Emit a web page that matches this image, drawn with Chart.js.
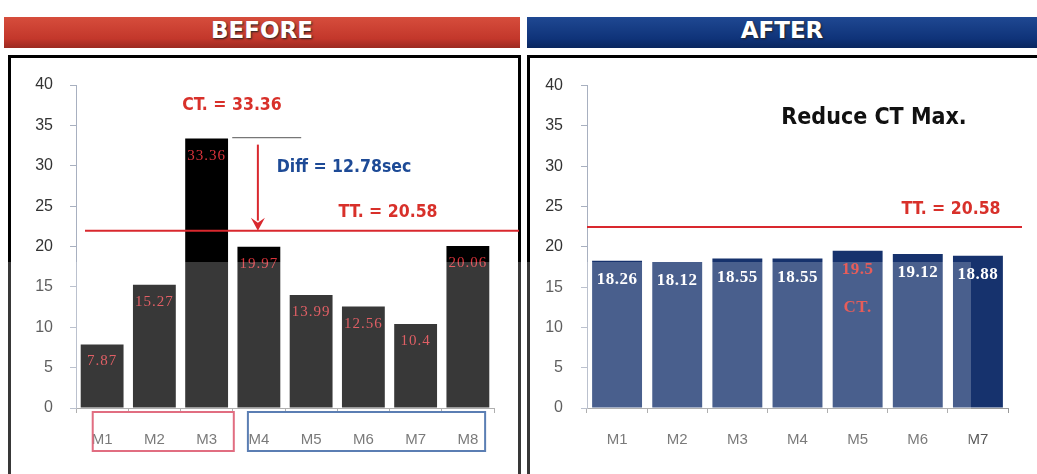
<!DOCTYPE html>
<html>
<head>
<meta charset="utf-8">
<script src="https://cdn.jsdelivr.net/npm/chart.js@4.4.1/dist/chart.umd.min.js"></script>
<style>
  body { margin: 0; width: 1037px; height: 474px; overflow: hidden; background: #fff; position: relative; }
  .hdr { position: absolute; top: 17px; height: 31px; line-height: 31px; color: #fff; text-align: center;
         font: bold 23px "DejaVu Sans", sans-serif; text-shadow: 1px 1px 2px #222; }
  #hdrBefore { left: 4px; width: 516px; background: linear-gradient(#d64d3c, #c3372b 70%, #9c2a21); }
  #hdrAfter { left: 527px; width: 510px; background: linear-gradient(#1f4892, #0f3379 70%, #0a275f); }
  .box { position: absolute; top: 55px; height: 440px; border: 3px solid #000; box-sizing: border-box; }
  #boxBefore { left: 8px; width: 513px; }
  #boxAfter { left: 527px; width: 530px; }
  .wrap { position: absolute; top: 58px; }
  #wrapBefore { left: 11px; }
  #wrapAfter { left: 530px; }
  .note { position: absolute; white-space: nowrap; transform: translate(-50%, -50%);
          font-family: "DejaVu Sans Condensed", "DejaVu Sans", sans-serif; font-weight: bold; font-size: 17.5px; }
  #veil { position: absolute; left: 0; top: 262px; width: 971px; height: 212px; background: rgba(255,255,255,0.22); pointer-events: none; }
</style>
</head>
<body>
<div class="hdr" id="hdrBefore">BEFORE</div>
<div class="hdr" id="hdrAfter">AFTER</div>
<div class="box" id="boxBefore"></div>
<div class="box" id="boxAfter"></div>
<div class="wrap" id="wrapBefore"><canvas id="beforeChart" width="508" height="416"></canvas></div>
<div class="wrap" id="wrapAfter"><canvas id="afterChart" width="507" height="416"></canvas></div>

<div class="note" style="left:232px;top:104px;color:#d8302a">CT. = 33.36</div>
<div class="note" style="left:344px;top:166px;color:#1d4a96">Diff = 12.78sec</div>
<div class="note" style="left:388px;top:211px;color:#d8302a">TT. = 20.58</div>
<div class="note" style="left:874px;top:116px;color:#111;font-size:23px">Reduce CT Max.</div>
<div class="note" style="left:951px;top:208px;color:#d8302a">TT. = 20.58</div>

<div id="veil"></div>

<script>
// data
const beforeStations = ["M1", "M2", "M3", "M4", "M5", "M6", "M7", "M8"];
const beforeCT = [7.87, 15.27, 33.36, 19.97, 13.99, 12.56, 10.4, 20.06];
const afterStations = ["M1", "M2", "M3", "M4", "M5", "M6", "M7"];
const afterCT = [18.26, 18.12, 18.55, 18.55, 19.5, 19.12, 18.88];
const yMin = 0, yMax = 40, yStep = 5;
// red takt lines sit a bit above 20.58 in the picture
const ttLineBefore = 21.96;
const ttLineAfter = 22.45;
const ctMax = 33.36;
// station groups under the before axis (first index, last index)
const beforeGroups = [[0, 2], [3, 7]];
const afterHighlight = "M5";
const afterHighlightNote = "CT.";

function yAxis(width, pad) {
  return {
    min: yMin, max: yMax,
    ticks: { stepSize: yStep, padding: pad, color: "#333", font: { family: "Liberation Sans", size: 16 } },
    grid: { drawOnChartArea: false, tickLength: 6, color: "#a8b0c0" },
    border: { color: "#a8b0c0", width: 1, dash: [2, 1] },
    afterFit: s => { s.width = width; }
  };
}

function xAxis() {
  return {
    offset: true,
    ticks: { padding: 18, color: "#555", font: { family: "Liberation Sans", size: 15 } },
    grid: { drawOnChartArea: false, offset: true, tickLength: 5, color: "#999" },
    border: { color: "#999", width: 1 },
    afterFit: s => { s.height = 66; }
  };
}

function hLine(ctx, x1, x2, y, color, w) {
  ctx.save();
  ctx.strokeStyle = color;
  ctx.lineWidth = w;
  ctx.beginPath();
  ctx.moveTo(x1, y);
  ctx.lineTo(x2, y);
  ctx.stroke();
  ctx.restore();
}

const beforeMarks = {
  id: "beforeMarks",
  afterDatasetsDraw(chart) {
    const ctx = chart.ctx, x = chart.scales.x, y = chart.scales.y;
    const meta = chart.getDatasetMeta(0);
    const cat = x.width / beforeStations.length;
    // value labels inside the bars
    ctx.save();
    ctx.font = "15px 'Liberation Serif'";
    ctx.letterSpacing = "1px";
    ctx.fillStyle = "#d8323a";
    ctx.textAlign = "center";
    ctx.textBaseline = "middle";
    meta.data.forEach((bar, i) => ctx.fillText(String(beforeCT[i]), bar.x, bar.y + 17));
    ctx.restore();
    // takt line
    const ty = y.getPixelForValue(ttLineBefore);
    hLine(ctx, chart.chartArea.left + 9, chart.width, ty, "#d9282e", 2);
    // CT max marker and arrow
    const cy = y.getPixelForValue(ctMax);
    hLine(ctx, x.getPixelForValue(2) + 0.49 * cat, x.getPixelForValue(3) + 0.81 * cat, cy - 1, "#777", 1.2);
    const ax = x.getPixelForValue(3) - 1;
    ctx.save();
    ctx.strokeStyle = "#d9282e";
    ctx.fillStyle = "#d9282e";
    ctx.lineWidth = 2;
    ctx.beginPath();
    ctx.moveTo(ax, cy + 6);
    ctx.lineTo(ax, ty - 10);
    ctx.stroke();
    ctx.beginPath();
    ctx.moveTo(ax - 7, ty - 13);
    ctx.lineTo(ax, ty);
    ctx.lineTo(ax + 7, ty - 13);
    ctx.lineTo(ax, ty - 8);
    ctx.closePath();
    ctx.fill();
    ctx.restore();
  },
  afterDraw(chart) {
    const ctx = chart.ctx, x = chart.scales.x;
    const cat = x.width / beforeStations.length;
    const top = chart.chartArea.bottom + 4, h = 39;
    const colors = ["#d9455e", "#2d5a9e"];
    const pads = [[0.18, 0.52], [0.21, 0.33]];
    ctx.save();
    ctx.lineWidth = 2;
    beforeGroups.forEach((g, i) => {
      const x1 = x.getPixelForValue(g[0]) - pads[i][0] * cat;
      const x2 = x.getPixelForValue(g[1]) + pads[i][1] * cat;
      ctx.strokeStyle = colors[i];
      ctx.strokeRect(x1, top, x2 - x1, h);
    });
    ctx.restore();
  }
};

const afterMarks = {
  id: "afterMarks",
  afterDatasetsDraw(chart) {
    const ctx = chart.ctx, y = chart.scales.y;
    const meta = chart.getDatasetMeta(0);
    ctx.save();
    ctx.font = "bold 17px 'Liberation Serif'";
    ctx.letterSpacing = "0.5px";
    ctx.textAlign = "center";
    ctx.textBaseline = "middle";
    meta.data.forEach((bar, i) => {
      const hot = afterStations[i] === afterHighlight;
      ctx.fillStyle = hot ? "#e0302c" : "#fff";
      ctx.fillText(String(afterCT[i]), bar.x, bar.y + 19);
      if (hot) ctx.fillText(afterHighlightNote, bar.x, bar.y + 57);
    });
    ctx.restore();
    hLine(ctx, chart.chartArea.left, chart.width - 15, y.getPixelForValue(ttLineAfter), "#d9282e", 2);
  }
};

new Chart(document.getElementById("beforeChart"), {
  type: "bar",
  data: {
    labels: beforeStations,
    datasets: [{ label: "CT", data: beforeCT, backgroundColor: "#000", barPercentage: 0.82, categoryPercentage: 1 }]
  },
  options: {
    responsive: false,
    animation: false,
    layout: { padding: { top: 27, right: 25, left: 0, bottom: 0 } },
    plugins: { legend: { display: false }, tooltip: { enabled: false } },
    scales: { x: xAxis(), y: yAxis(65, 17) }
  },
  plugins: [beforeMarks]
});

new Chart(document.getElementById("afterChart"), {
  type: "bar",
  data: {
    labels: afterStations,
    datasets: [{ label: "CT", data: afterCT, backgroundColor: "#16326d", barPercentage: 0.83, categoryPercentage: 1 }]
  },
  options: {
    responsive: false,
    animation: false,
    layout: { padding: { top: 27, right: 29, left: 0, bottom: 0 } },
    plugins: { legend: { display: false }, tooltip: { enabled: false } },
    scales: { x: xAxis(), y: yAxis(57, 18) }
  },
  plugins: [afterMarks]
});
</script>
</body>
</html>
